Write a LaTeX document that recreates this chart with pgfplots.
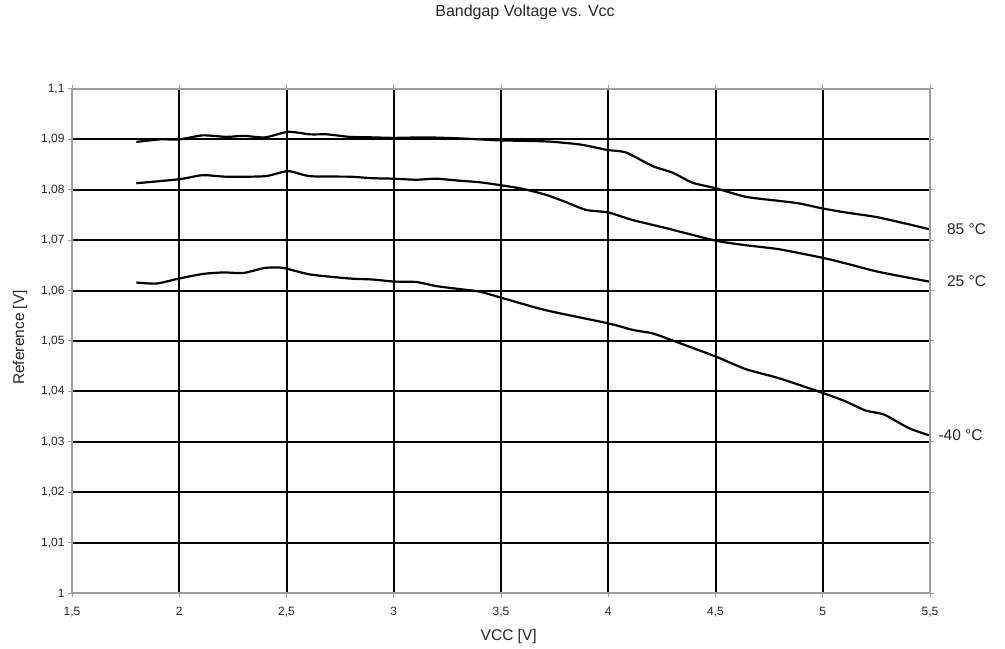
\documentclass[border=0pt]{standalone}
\usepackage{fontspec}
\setmainfont{Liberation Sans}
\usepackage{pgfplots}
\pgfplotsset{compat=1.18}
\begin{document}
\begin{tikzpicture}
\useasboundingbox (-72bp,-56bp) rectangle (933bp,593bp);
\begin{axis}[
  scale only axis, width=858bp, height=504bp,
  at={(0,0)}, anchor=south west,
  xmin=1.5, xmax=5.5, ymin=1, ymax=1.1,
  xtick={1.5,2,2.5,3,3.5,4,4.5,5,5.5},
  ytick={1,1.01,1.02,1.03,1.04,1.05,1.06,1.07,1.08,1.09,1.1},
  /pgf/number format/use comma,
  /pgf/number format/assume math mode=true,
  ticklabel style={font=\fontsize{12bp}{14bp}\selectfont, text=black!85},
  xticklabel style={yshift=-7bp},
  grid=major,
  major grid style={black, line width=2bp},
  axis line style={gray!75, line width=2.5bp},
  tick style={gray!75, line width=1bp},
  tick align=outside, major tick length=4bp,
  xlabel={VCC [V]}, ylabel={Reference [V]},
  label style={font=\fontsize{15.5bp}{18bp}\selectfont, text=black!85},
  xlabel style={at={(axis description cs:0.509,0)}, anchor=base, yshift=-47bp},
  ylabel style={at={(axis description cs:-0.0606,0.507)}, anchor=center},
  title={Bandgap Voltage vs. Vcc},
  title style={font=\fontsize{16bp}{18bp}\selectfont, text=black!85, at={(axis description cs:0.528,1)}, anchor=base, yshift=67bp},
  clip=false,
]
% 85 C
\addplot[black, line width=2.2bp, smooth, tension=0.4] coordinates {
(1.80,1.0895) (1.91,1.0900) (2.00,1.0900) (2.11,1.0908) (2.22,1.0905) (2.30,1.0907)
(2.40,1.0904) (2.507,1.0915) (2.61,1.0910) (2.69,1.0910) (2.794,1.0905) (2.903,1.0904)
(3.004,1.0903) (3.15,1.0904) (3.307,1.0902) (3.40,1.0900) (3.50,1.0898) (3.71,1.0896)
(3.866,1.0890) (3.997,1.0879) (4.083,1.0874) (4.207,1.0847) (4.30,1.0834) (4.393,1.0814)
(4.502,1.0803) (4.642,1.0786) (4.797,1.0778) (4.89,1.0773) (4.999,1.0763) (5.107,1.0755)
(5.262,1.0745) (5.495,1.0722)};
% 25 C
\addplot[black, line width=2.2bp, smooth, tension=0.4] coordinates {
(1.80,1.0813) (2.00,1.0821) (2.11,1.0829) (2.22,1.0826) (2.40,1.0827) (2.507,1.0837)
(2.61,1.0827) (2.794,1.0826) (2.90,1.0823) (3.00,1.0822) (3.105,1.0820) (3.198,1.0822)
(3.307,1.0818) (3.40,1.0815) (3.50,1.0809) (3.60,1.0802) (3.71,1.0790) (3.80,1.0776)
(3.897,1.0760) (4.00,1.0755) (4.114,1.0740) (4.269,1.0724) (4.502,1.0699) (4.642,1.0690)
(4.797,1.0682) (5.00,1.0665) (5.107,1.0654) (5.262,1.0637) (5.495,1.0618)};
% -40 C
\addplot[black, line width=2.2bp, smooth, tension=0.4] coordinates {
(1.80,1.0616) (1.894,1.0614) (2.00,1.0624) (2.11,1.0633) (2.205,1.0636) (2.30,1.0635)
(2.40,1.0645) (2.484,1.0645) (2.61,1.0632) (2.794,1.0624) (2.90,1.0622) (3.00,1.0618)
(3.105,1.0617) (3.198,1.0609) (3.307,1.0603) (3.40,1.0598) (3.50,1.0586) (3.71,1.0561)
(4.00,1.0535) (4.114,1.0522) (4.207,1.0515) (4.30,1.0501) (4.502,1.0469) (4.642,1.0444)
(4.797,1.0426) (5.00,1.0397) (5.107,1.0380) (5.20,1.0362) (5.286,1.0354) (5.402,1.0327)
(5.495,1.0313)};
\node[anchor=west, text=black!85, font=\fontsize{15.5bp}{18bp}\selectfont] at (axis cs:5.5,1.0722) [xshift=13.5bp] {85 °C};
\node[anchor=west, text=black!85, font=\fontsize{15.5bp}{18bp}\selectfont] at (axis cs:5.5,1.0618) [xshift=13.5bp] {25 °C};
\node[anchor=west, text=black!85, font=\fontsize{15.5bp}{18bp}\selectfont] at (axis cs:5.5,1.0313) [xshift=5bp] {-40 °C};
\end{axis}
\end{tikzpicture}
\end{document}
